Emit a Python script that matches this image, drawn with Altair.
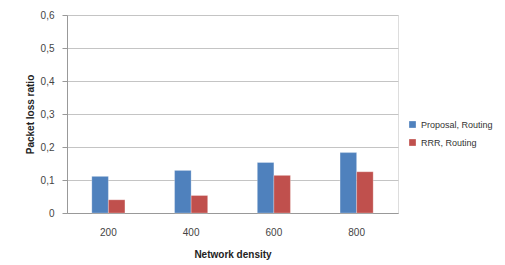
import altair as alt
import pandas as pd

densities = ["200", "400", "600", "800"]
series = ["Proposal, Routing", "RRR, Routing"]
proposal = [0.111, 0.129, 0.153, 0.183]
rrr = [0.040, 0.053, 0.114, 0.125]
colors = ["#4f81bd", "#c0504d"]

rows = []
for d, p, r in zip(densities, proposal, rrr):
    rows.append({"density": d, "series": series[0], "value": p})
    rows.append({"density": d, "series": series[1], "value": r})
df = pd.DataFrame(rows)

font = "Liberation Sans"

chart = alt.Chart(df).mark_bar(stroke="white", strokeOpacity=0.5, strokeWidth=0.5).encode(
    x=alt.X("density:N", sort=densities,
            scale=alt.Scale(paddingInner=0.6, paddingOuter=0.3),
            axis=alt.Axis(title="Network density", labelAngle=0, tickSize=0,
                          labelPadding=14, titlePadding=12, domainColor="#999999",
                          labelColor="#444444", labelFontSize=10, titleFontSize=10,
                          titleFontWeight="bold", titleColor="#222222",
                          labelFont=font, titleFont=font)),
    xOffset=alt.XOffset("series:N", sort=series,
                        scale=alt.Scale(paddingInner=0, paddingOuter=0)),
    y=alt.Y("value:Q",
            scale=alt.Scale(domain=[0, 0.6]),
            axis=alt.Axis(title="Packet loss ratio", values=[0, 0.1, 0.2, 0.3, 0.4, 0.5, 0.6],
                          labelExpr="replace(format(datum.value, '.1~f'), '.', ',')",
                          tickSize=5, tickColor="#999999", domainColor="#999999",
                          gridColor="#c4c4c4", labelPadding=8, titlePadding=5,
                          labelColor="#444444", labelFontSize=10, titleFontSize=10,
                          titleFontWeight="bold", titleColor="#222222",
                          labelFont=font, titleFont=font)),
    color=alt.Color("series:N", sort=series,
                    scale=alt.Scale(domain=series, range=colors),
                    legend=alt.Legend(title=None, orient="none", legendX=341, legendY=105,
                                      symbolType="square", symbolSize=45, symbolStrokeWidth=0,
                                      labelFontSize=9, labelFont=font, labelColor="#333333",
                                      rowPadding=8, labelOffset=4)),
).properties(
    width=331, height=198,
    autosize=alt.AutoSizeParams(type="none"),
    padding={"left": 59, "top": 7, "right": 99, "bottom": 50},
).configure_view(fill="#f4f4f4", stroke=None).configure(background="white")

chart.save("out.html", embed_options={"renderer": "svg", "actions": False})
